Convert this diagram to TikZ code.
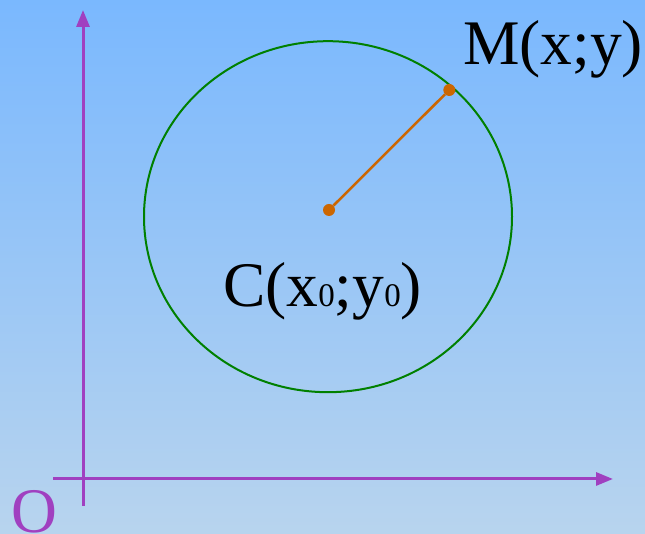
\documentclass[tikz,border=0pt]{standalone}
\usepackage{fontspec}
\setmainfont{Liberation Serif}
\usetikzlibrary{arrows.meta,shapes.geometric}
\definecolor{bgtop}{RGB}{122,184,254}
\definecolor{bgbot}{RGB}{184,212,238}
\definecolor{axpurple}{RGB}{160,64,192}
\definecolor{circgreen}{RGB}{0,128,0}
\definecolor{radorange}{RGB}{204,102,0}
\tikzset{
  axis/.style={draw=axpurple, line width=3pt, -{Triangle[length=17pt,width=13pt]}},
  biglabel/.style={inner sep=0pt, anchor=base west, font=\fontsize{63.5}{63.5}\selectfont},
  dot/.style={circle, fill=radorange, inner sep=0pt, minimum size=12pt},
}
\begin{document}
\begin{tikzpicture}[x=1pt,y=1pt]
\shade[top color=bgtop, bottom color=bgbot] (0,0) rectangle (645,534);
\useasboundingbox (0,0) rectangle (645,534);
% axes
\coordinate (xs) at (53,55);
\coordinate (xe) at (613,55);
\coordinate (ys) at (83,28);
\coordinate (ye) at (83,524);
\draw[axis] (xs) -- (xe);
\draw[axis] (ys) -- (ye);
% circle
\node[draw=circgreen, line width=2pt, ellipse, minimum width=368pt, minimum height=351pt, inner sep=0pt] (circ) at (328,317.3) {};
% points
\node[dot] (C) at (329,324) {};
\node[dot] (M) at (449.3,444) {};
\draw[radorange, line width=2.5pt] (C) -- (M);
% labels
\node[biglabel] (Ml) at (463,469) {M(x;y)};
\node[biglabel] (Cl) at (223,227.3) {C(x{\fontsize{33}{33}\selectfont 0};y{\fontsize{33}{33}\selectfont 0})};
\node[biglabel, text=axpurple] (Ol) at (11,1.5) {O};
\end{tikzpicture}
\end{document}
